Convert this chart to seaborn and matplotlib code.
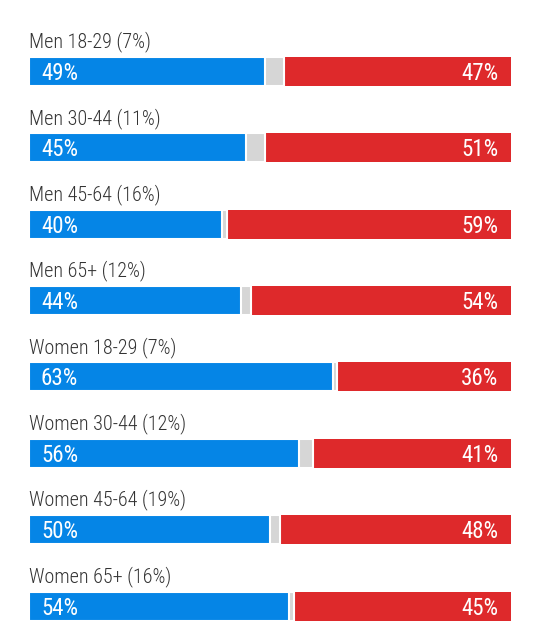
import matplotlib
matplotlib.use("Agg")
import matplotlib.pyplot as plt
import seaborn as sns
import pandas as pd
from matplotlib import font_manager

groups = ["Men 18-29 (7%)", "Men 30-44 (11%)", "Men 45-64 (16%)", "Men 65+ (12%)",
          "Women 18-29 (7%)", "Women 30-44 (12%)", "Women 45-64 (19%)", "Women 65+ (16%)"]
dem = [49, 45, 40, 44, 63, 56, 50, 54]
rep = [47, 51, 59, 54, 36, 41, 48, 45]

BLUE = "#0585e6"
RED = "#de292b"
GRAY = "#d6d6d6"

sns.set_theme(style="white")
names = {f.name for f in font_manager.fontManager.ttflist}
fam = "Roboto"
for cand in ["Roboto Condensed", "Barlow Semi Condensed", "Archivo Narrow"]:
    if cand in names:
        fam = cand
        break
plt.rcParams['font.family'] = [fam, "Roboto", "DejaVu Sans"]

df = pd.DataFrame({"group": groups, "dem": dem, "rep": rep})
df["total"] = 100
df["dem_other"] = 100 - df["rep"]

W, H = 540, 640
fig = plt.figure(figsize=(W / 100, H / 100), dpi=100)
ax = fig.add_axes([0, 0, 1, 1])

barw = 29 / 76.36
sns.barplot(data=df, y="group", x="total", color=RED, orient="h", width=barw,
            ax=ax, saturation=1, edgecolor="white", linewidth=0)
sns.barplot(data=df, y="group", x="dem_other", color=GRAY, orient="h", width=barw,
            ax=ax, saturation=1, edgecolor="white", linewidth=1.5)
sns.barplot(data=df, y="group", x="dem", color=BLUE, orient="h", width=barw,
            ax=ax, saturation=1, edgecolor="white", linewidth=1.5)

px = 100 / 482
ax.set_xlim(-29 * px, 100 + (W - 511) * px)
ax.set_ylim((H - 71.5) / 76.36, -71.5 / 76.36)
ax.axis("off")

for i, g in enumerate(groups):
    ax.text(0, i - 24 / 76.36, g, ha="left", va="baseline", fontsize=14.5,
            color="#333333", fontweight="light")
    ax.text(12 * px, i + 8.5 / 76.36, f"{dem[i]}%", ha="left", va="baseline",
            fontsize=16.5, color="white")
    ax.text(100 - 13 * px, i + 8.5 / 76.36, f"{rep[i]}%", ha="right", va="baseline",
            fontsize=16.5, color="white")

fig.savefig("out.png", dpi=100)
